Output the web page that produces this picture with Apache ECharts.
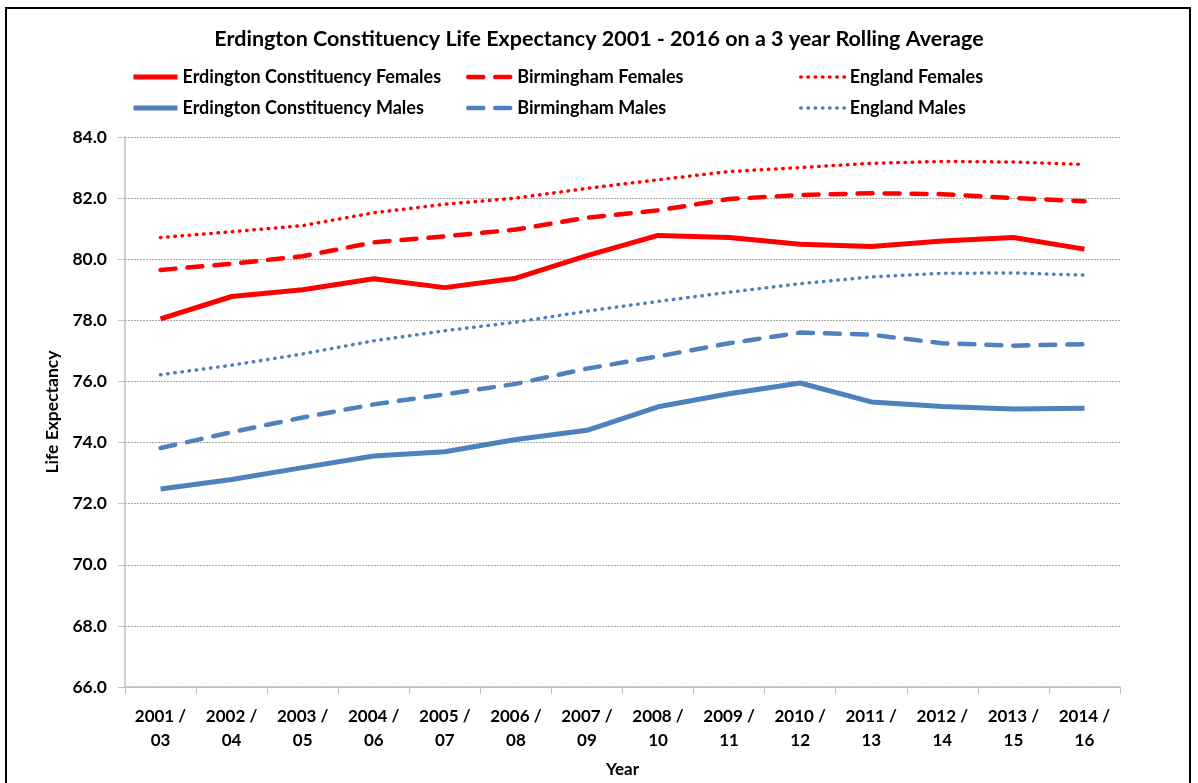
<!DOCTYPE html>
<html>
<head>
<meta charset="utf-8">
<script src="https://cdn.jsdelivr.net/npm/echarts@6/dist/echarts.min.js"></script>
<style>
  html, body { margin: 0; padding: 0; background: #fff; }
  #chart { width: 1198px; height: 783px; }
</style>
</head>
<body>
<div id="chart"></div>
<script>
  // 数据
  var years = ['2001 /\n03', '2002 /\n04', '2003 /\n05', '2004 /\n06', '2005 /\n07', '2006 /\n08', '2007 /\n09',
    '2008 /\n10', '2009 /\n11', '2010 /\n12', '2011 /\n13', '2012 /\n14', '2013 /\n15', '2014 /\n16'];
  var erdingtonFemales = [78.05, 78.78, 79.0, 79.36, 79.07, 79.38, 80.12, 80.78, 80.71, 80.49, 80.42, 80.6, 80.71, 80.33];
  var birminghamFemales = [79.65, 79.85, 80.1, 80.55, 80.75, 80.97, 81.36, 81.6, 81.97, 82.1, 82.16, 82.13, 82.0, 81.9];
  var englandFemales = [80.71, 80.9, 81.1, 81.52, 81.8, 82.0, 82.32, 82.6, 82.87, 83.0, 83.14, 83.2, 83.18, 83.1];
  var erdingtonMales = [72.48, 72.79, 73.18, 73.56, 73.7, 74.1, 74.4, 75.17, 75.6, 75.95, 75.33, 75.18, 75.1, 75.12];
  var birminghamMales = [73.82, 74.34, 74.82, 75.25, 75.58, 75.92, 76.42, 76.82, 77.25, 77.6, 77.53, 77.25, 77.17, 77.22];
  var englandMales = [76.22, 76.53, 76.9, 77.33, 77.66, 77.94, 78.3, 78.62, 78.92, 79.2, 79.42, 79.54, 79.55, 79.48];

  var RED = '#FF0000';
  var BLUE = '#4F81BD';
  var FONT = 'Lato';

  var chart = echarts.init(document.getElementById('chart'));

  function line(name, data, color, width, type) {
    return {
      name: name,
      type: 'line',
      data: data,
      showSymbol: false,
      symbol: 'circle',
      smooth: false,
      itemStyle: { color: color },
      lineStyle: { color: color, width: width, type: type, cap: type === 'solid' ? 'butt' : 'round' }
    };
  }

  // 三列图例，每列两项
  function legend(left, names, width) {
    return {
      orient: 'vertical',
      left: left,
      top: 62,
      itemWidth: 44,
      itemHeight: 20,
      itemGap: 11,
      data: names,
      itemStyle: { opacity: 0 },
      lineStyle: { width: width },
      textStyle: { fontFamily: FONT, fontWeight: 'bold', fontSize: 18, lineHeight: 20, color: '#000' }
    };
  }

  var option = {
    backgroundColor: '#fff',
    animation: false,
    title: {
      text: 'Erdington Constituency Life Expectancy 2001 - 2016 on a 3 year Rolling Average',
      left: 'center',
      top: 23,
      textStyle: { fontFamily: FONT, fontWeight: 'bold', fontSize: 21.5, color: '#000' }
    },
    legend: [
      legend(126, ['Erdington Constituency Females', 'Erdington Constituency Males'], 5),
      legend(461, ['Birmingham Females', 'Birmingham Males'], 4.5),
      legend(794, ['England Females', 'England Males'], 3.5)
    ],
    graphic: [{
      type: 'rect',
      shape: { x: 6, y: 8, width: 1184, height: 800 },
      style: { fill: 'none', stroke: '#000', lineWidth: 2 },
      silent: true
    }],
    grid: { left: 125, right: 78, top: 137, bottom: 87, containLabel: false },
    xAxis: {
      type: 'category',
      data: years,
      boundaryGap: true,
      name: 'Year',
      nameLocation: 'middle',
      nameGap: 74,
      nameTextStyle: { fontFamily: FONT, fontWeight: 'bold', fontSize: 17, color: '#000' },
      axisLine: { lineStyle: { color: '#BFBFBF', width: 1.5 } },
      axisTick: { show: true, length: 7, lineStyle: { color: '#BFBFBF' } },
      axisLabel: {
        interval: 0, margin: 18, lineHeight: 24,
        fontFamily: FONT, fontWeight: 'bold', fontSize: 17, color: '#000'
      }
    },
    yAxis: {
      type: 'value',
      min: 66, max: 84, interval: 2,
      name: 'Life Expectancy',
      nameLocation: 'middle',
      nameGap: 59,
      nameTextStyle: { fontFamily: FONT, fontWeight: 'bold', fontSize: 17.5, color: '#000' },
      axisLine: { show: true, lineStyle: { color: '#BFBFBF', width: 1.5 } },
      axisTick: { show: true, length: 7, lineStyle: { color: '#BFBFBF' } },
      splitLine: { lineStyle: { color: '#A6A6A6', width: 1, type: [2, 1] } },
      axisLabel: {
        margin: 18,
        formatter: function (v) { return v.toFixed(1); },
        fontFamily: FONT, fontWeight: 'bold', fontSize: 17.5, color: '#000'
      }
    },
    series: [
      line('Erdington Constituency Females', erdingtonFemales, RED, 5, 'solid'),
      line('Erdington Constituency Males', erdingtonMales, BLUE, 5, 'solid'),
      line('Birmingham Females', birminghamFemales, RED, 4.5, [15, 12]),
      line('Birmingham Males', birminghamMales, BLUE, 4.5, [15, 12]),
      line('England Females', englandFemales, RED, 3.5, [0.5, 6.7]),
      line('England Males', englandMales, BLUE, 3.5, [0.5, 6.7])
    ]
  };

  chart.setOption(option);
</script>
</body>
</html>
